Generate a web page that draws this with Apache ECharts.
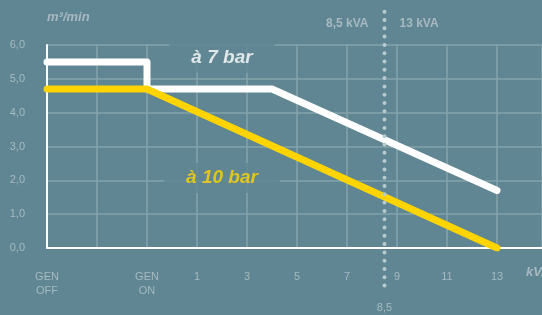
<!DOCTYPE html>
<html>
<head>
<meta charset="utf-8">
<script src="https://cdn.jsdelivr.net/npm/echarts@6/dist/echarts.min.js"></script>
<style>
html,body{margin:0;padding:0;background:#5f8692;}
#c{width:542px;height:315px;}
</style>
</head>
<body>
<div id="c"></div>
<script>
// X axis positions: 0 = GEN OFF, 2 = GEN ON, then kVA 1,3,...,13 at 3..9
const xTickLabels = ['GEN\nOFF', '', 'GEN\nON', '1', '3', '5', '7', '9', '11', '13'];
const yTickValues = [0, 1, 2, 3, 4, 5, 6];
// "à 7 bar" curve [axis position, m³/min]
const bar7 = [[0, 5.5], [2, 5.5], [2, 4.7], [4.5, 4.7], [9, 1.7]];
// "à 10 bar" curve [axis position, m³/min]
const bar10 = [[0, 4.7], [2, 4.7], [9, 0]];
const seriesNames = ['à 7 bar', 'à 10 bar'];
const markerKva = 8.5;
const markerPos = 3 + (markerKva - 1) / 2;

const BG = '#5f8692';
const GRID = '#85a2ab';
const TXT = '#a6bac0';
const SANS = '"Liberation Sans", Arial, sans-serif';

const chart = echarts.init(document.getElementById('c'), null, {renderer: 'canvas'});
const option = {
  backgroundColor: BG,
  animation: false,
  grid: {left: 47, right: 0, top: 45, bottom: 67, outerBoundsMode: 'none', containLabel: false},
  xAxis: {
    type: 'value', min: 0, max: 9.9, interval: 1,
    axisLine: {show: true, onZero: false, lineStyle: {color: '#ffffff', width: 2}},
    axisTick: {show: false},
    axisLabel: {
      color: TXT, fontFamily: SANS, fontSize: 11, lineHeight: 14, margin: 22,
      showMaxLabel: false,
      formatter: v => (Number.isInteger(v) && xTickLabels[v] !== undefined) ? xTickLabels[v] : ''
    },
    splitLine: {show: true, lineStyle: {color: GRID, width: 1.5}}
  },
  yAxis: {
    type: 'value', min: 0, max: 6, interval: 1,
    name: 'm³/min', nameLocation: 'end', nameGap: 21,
    nameTextStyle: {color: TXT, fontFamily: SANS, fontWeight: 'bold', fontStyle: 'italic', fontSize: 13, align: 'left'},
    axisLine: {show: true, lineStyle: {color: '#ffffff', width: 2}},
    axisTick: {show: false},
    axisLabel: {color: TXT, fontFamily: SANS, fontSize: 11, margin: 22,
      formatter: v => yTickValues.includes(v) ? v.toFixed(1).replace('.', ',') : ''},
    splitLine: {show: true, lineStyle: {color: GRID, width: 1.5}}
  },
  series: [
    {
      name: 'labels', type: 'scatter', z: 2, symbolSize: 0, silent: true,
      data: [
        {value: [3.5, 5.62], label: {formatter: seriesNames[0], color: '#ffffff'}},
        {value: [3.5, 2.07], label: {formatter: seriesNames[1], color: '#ffd400'}}
      ],
      label: {show: true, position: 'inside', align: 'center', verticalAlign: 'middle',
        fontFamily: SANS, fontWeight: 'bold', fontStyle: 'italic', fontSize: 19,
        backgroundColor: BG, padding: [5, 22], lineHeight: 20}
    },
    {
      name: seriesNames[0], type: 'line', z: 3, data: bar7, showSymbol: false, symbol: 'none',
      lineStyle: {color: '#ffffff', width: 7, cap: 'round', join: 'round'}
    },
    {
      name: seriesNames[1], type: 'line', z: 4, data: bar10, showSymbol: false, symbol: 'none',
      lineStyle: {color: '#ffd400', width: 7, cap: 'round', join: 'round'}
    }
  ]
};
chart.setOption(option);

const px = chart.convertToPixel({gridIndex: 0}, [markerPos, 0])[0];
const axisEnd = chart.convertToPixel({gridIndex: 0}, [9.9, 0]);
chart.setOption({
  graphic: [
    {type: 'line', z: 10, silent: true,
      shape: {x1: px, y1: 11.7, x2: px, y2: 293.5},
      style: {stroke: '#b9cacf', lineWidth: 4, lineDash: [0, 8.3], lineCap: 'round'}},
    {type: 'text', z: 10, x: px - 16, y: 24,
      style: {text: '8,5 kVA', fill: TXT, font: 'bold 12px ' + SANS, textAlign: 'right', textVerticalAlign: 'middle'}},
    {type: 'text', z: 10, x: px + 15, y: 24,
      style: {text: '13 kVA', fill: TXT, font: 'bold 12px ' + SANS, textAlign: 'left', textVerticalAlign: 'middle'}},
    {type: 'text', z: 10, x: px, y: 308,
      style: {text: String(markerKva).replace('.', ','), fill: TXT, font: '11px ' + SANS, textAlign: 'center', textVerticalAlign: 'middle'}},
    {type: 'text', z: 10, x: axisEnd[0] - 16, y: axisEnd[1] + 24,
      style: {text: 'kVA', fill: TXT, font: 'italic bold 13px ' + SANS, textAlign: 'left', textVerticalAlign: 'middle'}}
  ]
});
</script>
</body>
</html>
